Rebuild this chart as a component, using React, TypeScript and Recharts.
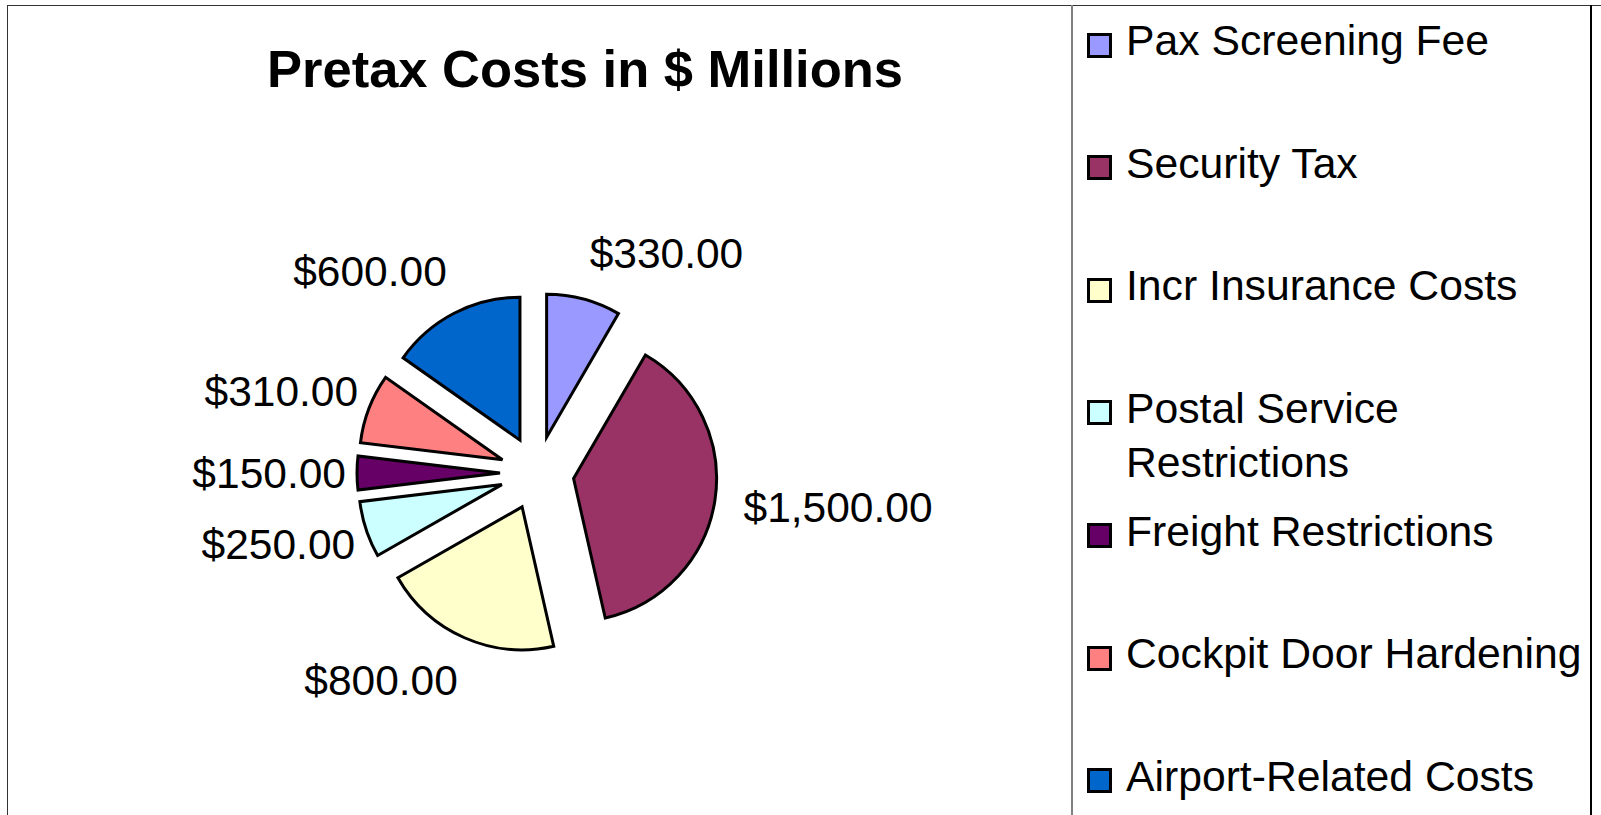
import React from "react";
import { PieChart, Pie, Cell, Sector, Legend } from "recharts";

const categories = [
  "Pax Screening Fee",
  "Security Tax",
  "Incr Insurance Costs",
  "Postal Service Restrictions",
  "Freight Restrictions",
  "Cockpit Door Hardening",
  "Airport-Related Costs",
];
const costs = [330, 1500, 800, 250, 150, 310, 600];
const sliceColors = ["#9999FF", "#993366", "#FFFFCC", "#CCFFFF", "#660066", "#FF8080", "#0066CC"];

const data = categories.map((name, i) => ({ name, value: costs[i] }));

const FONT = '"Liberation Sans", Arial, sans-serif';
const EXPLODE = 37;
const RADIUS = 143;
const RAD = Math.PI / 180;

function ExplodedSlice(props: any) {
  const a = -props.midAngle * RAD;
  return (
    <Sector
      {...props}
      cx={props.cx + EXPLODE * Math.cos(a)}
      cy={props.cy + EXPLODE * Math.sin(a)}
    />
  );
}

function SliceLabel(props: any) {
  const { cx, cy, midAngle, outerRadius, value } = props;
  const a = -midAngle * RAD;
  const cos = Math.cos(a);
  const sin = Math.sin(a);
  const r = outerRadius + EXPLODE + 20;
  const text =
    "$" + value.toLocaleString("en-US", { minimumFractionDigits: 2, maximumFractionDigits: 2 });
  return (
    <text
      x={cx + r * cos + 9 * cos * cos}
      y={cy + (r + 27) * sin}
      textAnchor={cos >= 0 ? "start" : "end"}
      dominantBaseline="central"
      fontSize={42.5}
      fontFamily={FONT}
      fill="#000"
    >
      {text}
    </text>
  );
}

function LegendBox(props: any) {
  const payload = [...(props.payload || [])].sort(
    (p: any, q: any) => categories.indexOf(p.value) - categories.indexOf(q.value)
  );
  return (
    <div
      style={{
        position: "relative",
        width: 519,
        height: 810,
        fontFamily: FONT,
        fontSize: 42.7,
        lineHeight: "54px",
        color: "#000",
      }}
    >
      {payload.map((entry: any) => {
        const idx = categories.indexOf(entry.value);
        const baseline = 50 + 122.6 * idx;
        return (
          <React.Fragment key={entry.value}>
            <div
              style={{
                position: "absolute",
                left: 15,
                top: baseline - 10 - 12.5,
                width: 25,
                height: 25,
                boxSizing: "border-box",
                border: "3px solid #000",
                background: sliceColors[idx],
              }}
            />
            <div
              style={{
                position: "absolute",
                left: 54,
                top: baseline - 41.8,
                width: 462,
                textAlign: "left",
              }}
            >
              {entry.value}
            </div>
          </React.Fragment>
        );
      })}
    </div>
  );
}

export default function App() {
  return (
    <div
      style={{
        position: "absolute",
        left: 0,
        top: 0,
        width: 1601,
        height: 815,
        overflow: "hidden",
        background: "#fff",
      }}
    >
      <div
        style={{
          position: "absolute",
          left: 6.5,
          top: 4.5,
          width: 1700,
          height: 900,
          borderLeft: "1.5px solid #333",
          borderTop: "1.5px solid #333",
        }}
      />
      <div style={{ position: "absolute", left: 1071, top: 5, width: 2, height: 810, background: "#808080" }} />
      <div style={{ position: "absolute", left: 1590, top: 5, width: 1.5, height: 810, background: "#000" }} />
      <div
        style={{
          position: "absolute",
          left: 185,
          top: 39,
          width: 800,
          textAlign: "center",
          fontFamily: FONT,
          fontWeight: "bold",
          fontSize: 52.5,
          lineHeight: "60px",
          color: "#000",
        }}
      >
        Pretax Costs in $ Millions
      </div>
      <div style={{ position: "absolute", left: 0, top: 0 }}>
        <PieChart width={1601} height={815} margin={{ top: 0, right: 0, bottom: 0, left: 0 }}>
          <Pie
            data={data}
            dataKey="value"
            nameKey="name"
            cx={537}
            cy={473}
            outerRadius={RADIUS}
            startAngle={90}
            endAngle={-270}
            stroke="#000"
            strokeWidth={3}
            shape={ExplodedSlice}
            activeShape={ExplodedSlice}
            inactiveShape={ExplodedSlice}
            label={SliceLabel}
            labelLine={false}
            isAnimationActive={false}
          >
            {data.map((d, i) => (
              <Cell key={d.name} fill={sliceColors[i]} />
            ))}
          </Pie>
          <Legend
            layout="vertical"
            align="right"
            verticalAlign="top"
            content={LegendBox}
            wrapperStyle={{ left: 1072, top: 5, width: 519, height: 810 }}
          />
        </PieChart>
      </div>
    </div>
  );
}
